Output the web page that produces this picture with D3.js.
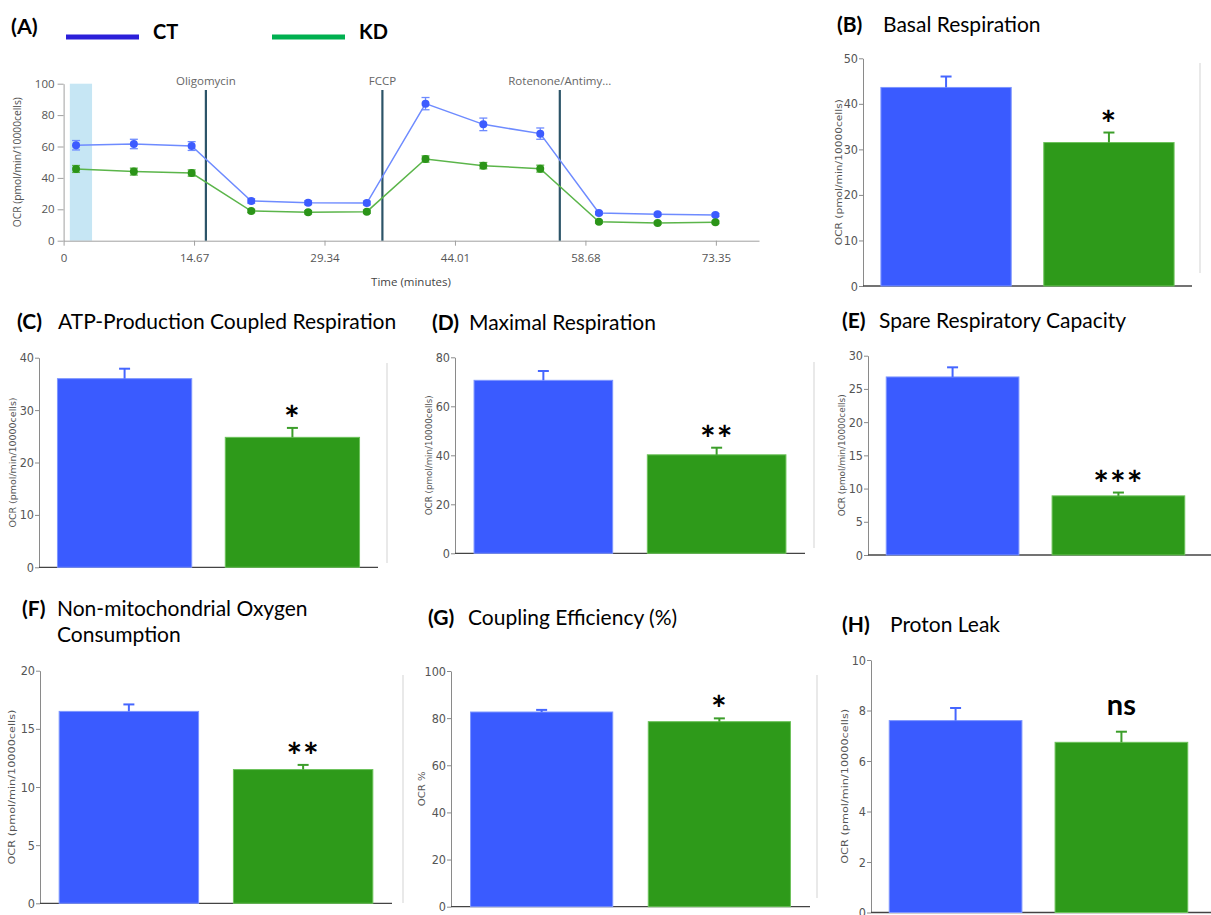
<!DOCTYPE html>
<html>
<head>
<meta charset="utf-8">
<script src="https://cdn.jsdelivr.net/npm/d3@7"></script>
<style>
  body { margin: 0; background: #fff; }
  svg { display: block; font-family: Lato, "Open Sans", sans-serif; }
  .seahorse text { font-family: "Open Sans", sans-serif; }
  .narrow { font-family: "Liberation Sans Narrow", "DejaVu Sans Condensed", sans-serif; }
</style>
</head>
<body>
<div id="chart"></div>
<script>
// ---- panel A: time course ----
const timeMin = [1.4, 7.9, 14.4, 21.1, 27.5, 34.1, 40.7, 47.2, 53.6, 60.2, 66.8, 73.3];
const ctOcr = [60.8, 61.6, 60.3, 25.3, 24.2, 24.0, 87.3, 74.1, 68.2, 17.6, 16.8, 16.4];
const ctErr = [3.0, 3.0, 2.8, 1.4, 1.2, 1.2, 3.9, 4.0, 3.6, 1.0, 0.9, 0.9];
const kdOcr = [45.7, 44.0, 43.1, 18.9, 18.1, 18.5, 52.0, 47.8, 45.9, 12.1, 11.3, 11.7];
const kdErr = [2.2, 2.2, 2.0, 1.0, 1.0, 1.0, 2.0, 2.0, 2.2, 0.9, 0.8, 0.8];
const injectionNames = ["Oligomycin", "FCCP", "Rotenone/Antimy..."];
const injectionTimes = [16.0, 35.85, 55.8];
const timeTicks = [0, 14.67, 29.34, 44.01, 58.68, 73.35];
const baselineBand = [0.7, 3.2];

// ---- panels B-H: bar summaries ----
const panelLetters = ["B", "C", "D", "E", "F", "G", "H"];
const panelTitles = [
  ["Basal Respiration"],
  ["ATP-Production Coupled Respiration"],
  ["Maximal Respiration"],
  ["Spare Respiratory Capacity"],
  ["Non-mitochondrial Oxygen", "Consumption"],
  ["Coupling Efficiency (%)"],
  ["Proton Leak"]
];
const groups = ["CT", "KD"];
const ctMean = [43.6, 36.0, 70.6, 26.8, 16.5, 82.6, 7.6];
const ctSem = [2.4, 1.9, 3.8, 1.45, 0.6, 0.9, 0.5];
const kdMean = [31.5, 24.8, 40.2, 8.9, 11.5, 78.5, 6.74];
const kdSem = [2.2, 1.8, 2.9, 0.5, 0.4, 1.4, 0.42];
const yMax = [50, 40, 80, 30, 20, 100, 10];
const yStep = [10, 10, 20, 5, 5, 20, 2];
const sigLabels = ["*", "*", "**", "***", "**", "*", "ns"];
const yTitles = [
  "OCR (pmol/min/10000cells)", "OCR (pmol/min/10000cells)", "OCR (pmol/min/10000cells)",
  "OCR (pmol/min/10000cells)", "OCR (pmol/min/10000cells)", "OCR %", "OCR (pmol/min/10000cells)"
];

const blue = "#3a5bff";
const green = "#2e9a1a";

const svg = d3.select("#chart").append("svg")
  .attr("width", 1211).attr("height", 915)
  .attr("viewBox", [0, 0, 1211, 915]);

// ================= panel A =================
const a = svg.append("g").attr("class", "seahorse");
const x = d3.scaleLinear().domain([0, 78.2]).range([63.6, 759]);
const y = d3.scaleLinear().domain([0, 100]).range([240.7, 83.7]);

a.append("rect")
  .attr("x", x(baselineBand[0])).attr("width", x(baselineBand[1]) - x(baselineBand[0]))
  .attr("y", y(100)).attr("height", y(0) - y(100))
  .attr("fill", "#c6e6f4");

const xAxis = a.append("g").attr("transform", `translate(0,${y(0)})`)
  .call(d3.axisBottom(x).tickValues(timeTicks).tickFormat(d => d === 0 ? "0" : d3.format(".2f")(d)).tickSize(5).tickSizeOuter(0).tickPadding(8));
const yAxis = a.append("g").attr("transform", `translate(${x(0)},0)`)
  .call(d3.axisLeft(y).tickValues(d3.range(0, 101, 20)).tickSize(6).tickSizeOuter(0).tickPadding(3));
[xAxis, yAxis].forEach(g => {
  g.selectAll("path, line").attr("stroke", "#a0a0a0");
  g.selectAll("text").attr("fill", "#555").attr("font-size", 11.5);
});

a.selectAll(".inj").data(injectionTimes).join("line")
  .attr("x1", d => x(d)).attr("x2", d => x(d))
  .attr("y1", 90).attr("y2", y(0))
  .attr("stroke", "#2c5468").attr("stroke-width", 2.2);
a.selectAll(".injlab").data(injectionNames).join("text")
  .attr("x", (d, i) => x(injectionTimes[i])).attr("y", 85)
  .attr("text-anchor", "middle").attr("font-size", 11.5).attr("fill", "#666")
  .text(d => d);

const series = [
  { mean: ctOcr, err: ctErr, line: "#6e8bff", dot: "#3d5cff" },
  { mean: kdOcr, err: kdErr, line: "#5bb54a", dot: "#2b9418" }
];
const line = d3.line().x((d, i) => x(timeMin[i])).y(d => y(d));
series.forEach(s => {
  a.append("path").datum(s.mean).attr("d", line)
    .attr("fill", "none").attr("stroke", s.line).attr("stroke-width", 1.5);
  const eb = a.append("g").selectAll("g").data(s.mean).join("g")
    .attr("stroke", s.line).attr("stroke-width", 1.3);
  eb.append("line")
    .attr("x1", (d, i) => x(timeMin[i])).attr("x2", (d, i) => x(timeMin[i]))
    .attr("y1", (d, i) => y(d + s.err[i])).attr("y2", (d, i) => y(d - s.err[i]));
  [1, -1].forEach(sign => {
    eb.append("line")
      .attr("x1", (d, i) => x(timeMin[i]) - 4).attr("x2", (d, i) => x(timeMin[i]) + 4)
      .attr("y1", (d, i) => y(d + sign * s.err[i])).attr("y2", (d, i) => y(d + sign * s.err[i]));
  });
  a.append("g").selectAll("circle").data(s.mean).join("circle")
    .attr("cx", (d, i) => x(timeMin[i])).attr("cy", d => y(d))
    .attr("r", 4).attr("fill", s.dot);
});

a.append("text").attr("class", "narrow")
  .attr("transform", `translate(21,${(y(0) + y(100)) / 2}) rotate(-90)`)
  .attr("text-anchor", "middle").attr("font-size", 11).attr("fill", "#555")
  .attr("textLength", 130).attr("lengthAdjust", "spacingAndGlyphs")
  .text("OCR (pmol/min/10000cells)");
a.append("text")
  .attr("x", 411).attr("y", 286).attr("text-anchor", "middle")
  .attr("font-size", 11.5).attr("fill", "#444").text("Time (minutes)");

// legend
svg.append("text").attr("x", 11).attr("y", 34).attr("font-weight", "bold").attr("font-size", 21.5).text("(A)");
const legendX = [66, 272];
const legendCol = ["#2b1fd9", "#00b050"];
groups.forEach((g, i) => {
  svg.append("rect").attr("x", legendX[i]).attr("y", 34.5).attr("width", 73).attr("height", 5).attr("fill", legendCol[i]);
  svg.append("text").attr("x", legendX[i] + 87).attr("y", 39).attr("font-weight", "bold").attr("font-size", 20).text(g);
});

// ================= panels B-H =================
// layout boxes (pixel geometry only)
const boxes = [
  { x0: 863, x1: 1192, top: 58.3, bot: 286, labX: 837, txtX: 883, tY: 32, yl: 842, ylLen: 146, frame: [1200, 63, 273] },
  { x0: 39, x1: 378, top: 357.7, bot: 567.3, labX: 17, txtX: 58, tY: 329, yl: 16, ylLen: 130, frame: [387, 363, 563] },
  { x0: 455, x1: 805, top: 357.3, bot: 553.3, labX: 432, txtX: 469, tY: 330, yl: 432, ylLen: 120, frame: null },
  { x0: 868, x1: 1211, top: 355.7, bot: 555, labX: 842, txtX: 879, tY: 328, yl: 845, ylLen: 122, frame: [814, 362, 548] },
  { x0: 40, x1: 392, top: 670.7, bot: 903.3, labX: 22, txtX: 57, tY: 616, yl: 15, ylLen: 155, frame: [403, 675, 903] },
  { x0: 451, x1: 810, top: 671, bot: 906.7, labX: 428, txtX: 468, tY: 625, yl: 425, ylLen: 35, frame: null },
  { x0: 871, x1: 1211, top: 660, bot: 912.5, labX: 842, txtX: 890, tY: 632, yl: 848, ylLen: 155, frame: [817, 675, 898] }
];
const barInner = [0.2, 0.2, 0.2, 0.2, 0.2, 0.2, 0.2];

panelLetters.forEach((letter, p) => {
  const b = boxes[p];
  const g = svg.append("g");
  const means = [ctMean[p], kdMean[p]];
  const sems = [ctSem[p], kdSem[p]];

  const xb = d3.scaleBand().domain(groups).range([b.x0, p === 6 || p === 3 ? b.x0 + 335 : b.x1]).paddingInner(barInner[p]).paddingOuter(0.11);
  const yb = d3.scaleLinear().domain([0, yMax[p]]).range([b.bot, b.top]);

  if (b.frame) {
    g.append("line").attr("x1", b.frame[0]).attr("x2", b.frame[0])
      .attr("y1", b.frame[1]).attr("y2", b.frame[2])
      .attr("stroke", "#e2e2e2").attr("stroke-width", 1.5);
  }

  const ya = g.append("g").attr("class", "narrow").attr("transform", `translate(${b.x0},0)`)
    .call(d3.axisLeft(yb).tickValues(d3.range(0, yMax[p] + 1e-9, yStep[p])).tickSize(4).tickSizeOuter(0).tickPadding(1));
  ya.selectAll("path, line").attr("stroke", "#8a8a8a");
  ya.selectAll("text").attr("fill", "#555").attr("font-size", 12.5);

  g.append("line").attr("x1", b.x0).attr("x2", b.x1).attr("y1", b.bot).attr("y2", b.bot)
    .attr("stroke", "#444").attr("stroke-width", 1.3);

  const cols = [blue, green];
  const errCols = ["#4566ff", "#3c9e2a"];
  g.selectAll("rect.bar").data(groups).join("rect")
    .attr("x", d => xb(d)).attr("width", xb.bandwidth())
    .attr("y", (d, i) => yb(means[i])).attr("height", (d, i) => b.bot - yb(means[i]))
    .attr("fill", (d, i) => cols[i])
    .attr("stroke", (d, i) => i ? "#6cc25a" : "#7d95ff").attr("stroke-width", 1);

  groups.forEach((d, i) => {
    const cx = xb(d) + xb.bandwidth() / 2;
    g.append("line").attr("x1", cx).attr("x2", cx)
      .attr("y1", yb(means[i])).attr("y2", yb(means[i] + sems[i]))
      .attr("stroke", errCols[i]).attr("stroke-width", 2);
    g.append("line").attr("x1", cx - 5.5).attr("x2", cx + 5.5)
      .attr("y1", yb(means[i] + sems[i])).attr("y2", yb(means[i] + sems[i]))
      .attr("stroke", errCols[i]).attr("stroke-width", 2);
  });

  // significance mark over KD
  const kx = xb("KD") + xb.bandwidth() / 2;
  const ky = yb(kdMean[p] + kdSem[p]);
  const isNs = sigLabels[p] === "ns";
  g.append("text").attr("x", kx).attr("y", isNs ? ky - 17 : ky + 4)
    .attr("text-anchor", "middle").attr("font-weight", "bold")
    .attr("font-size", isNs ? 29 : 37)
    .attr("letter-spacing", isNs ? 0 : 1)
    .text(sigLabels[p]);

  g.append("text").attr("class", "narrow")
    .attr("transform", `translate(${b.yl},${(b.top + b.bot) / 2}) rotate(-90)`)
    .attr("text-anchor", "middle").attr("font-size", 9).attr("fill", "#555")
    .attr("textLength", b.ylLen).attr("lengthAdjust", "spacingAndGlyphs")
    .text(yTitles[p]);

  g.append("text").attr("x", b.labX).attr("y", b.tY)
    .attr("font-weight", "bold").attr("font-size", 21).text(`(${letter})`);
  g.append("text").attr("x", b.txtX).attr("y", b.tY).attr("font-size", 21)
    .selectAll("tspan").data(panelTitles[p]).join("tspan")
    .attr("x", b.txtX).attr("dy", (d, i) => i ? 26 : 0).text(d => d);
});
</script>
</body>
</html>
